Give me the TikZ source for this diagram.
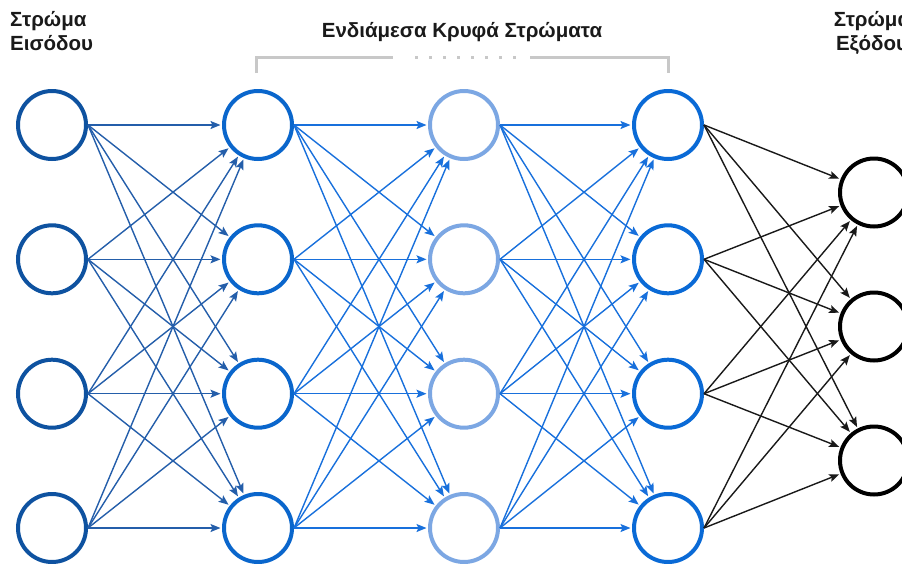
\documentclass[tikz,border=0pt]{standalone}
\usepackage{fontspec}
\setmainfont{Liberation Sans}
\usetikzlibrary{arrows.meta}

\definecolor{inblue}{RGB}{14,82,160}
\definecolor{inedge}{RGB}{36,94,170}
\definecolor{hidA}{RGB}{10,102,204}
\definecolor{hidB}{RGB}{124,167,227}
\definecolor{hidC}{RGB}{10,106,214}
\definecolor{midedge}{RGB}{24,112,220}
\definecolor{outedge}{RGB}{25,25,25}
\definecolor{bracketgray}{RGB}{200,200,200}
\definecolor{labeltext}{RGB}{26,26,26}

\tikzset{
  neuron/.style={circle, minimum size=68pt, inner sep=0pt, line width=4pt, fill=white},
  edge/.style={line width=1.4pt, shorten >=1.5pt, -{Stealth[length=10pt,width=8pt,inset=2pt]}},
  lbl/.style={font=\bfseries\fontsize{20.5}{24}\selectfont, text=labeltext, inner sep=0pt},
  bracket/.style={draw=bracketgray, line width=3pt}
}

\begin{document}
\begin{tikzpicture}[x=1pt, y=-1pt]
  \useasboundingbox (0,0) rectangle (902,563);

  % row positions of the four-neuron layers
  \def\rowA{125}\def\rowB{259.3}\def\rowC{393.7}\def\rowD{528}

  % input layer
  \foreach \n/\y in {1/\rowA,2/\rowB,3/\rowC,4/\rowD}
    \node[neuron, draw=inblue] (i\n) at (52,\y) {};
  % hidden layers
  \foreach \n/\y in {1/\rowA,2/\rowB,3/\rowC,4/\rowD}{
    \node[neuron, draw=hidA] (a\n) at (258,\y) {};
    \node[neuron, draw=hidB] (b\n) at (464,\y) {};
    \node[neuron, draw=hidC] (c\n) at (668,\y) {};
  }
  % output layer
  \foreach \n/\y in {1/192.5,2/326.5,3/460.5}
    \node[neuron, draw=black] (o\n) at (874,\y) {};

  % connections: each leaves the east point of its source neuron
  \foreach \s in {1,...,4}
    \foreach \t in {1,...,4}{
      \draw[edge, inedge] (i\s.east) -- (a\t);
      \draw[edge, midedge] (a\s.east) -- (b\t);
      \draw[edge, midedge] (b\s.east) -- (c\t);
    }
  \foreach \s in {1,...,4}
    \foreach \t in {1,2,3}
      \draw[edge, outedge] (c\s.east) -- (o\t);

  % labels
  \node[lbl, anchor=base west] (inA) at (10,26) {Στρώμα};
  \node[lbl, anchor=base west] (inB) at (10,50) {Εισόδου};
  \node[lbl, anchor=base] (hid) at (462,37) {Ενδιάμεσα Κρυφά Στρώματα};
  \node[lbl, anchor=base] (outA) at (872,26) {Στρώμα};
  \node[lbl, anchor=base] (outB) at (872,50) {Εξόδου};

  % bracket over the hidden layers
  \draw[bracket] (256,73) -- (256,57) -- (393,57);
  \draw[bracket] (530,57) -- (668,57) -- (668,73);
  \foreach \k in {0,...,7}
    \fill[bracketgray] (416+14*\k-1.5,55.5) rectangle ++(3,3);
\end{tikzpicture}
\end{document}
